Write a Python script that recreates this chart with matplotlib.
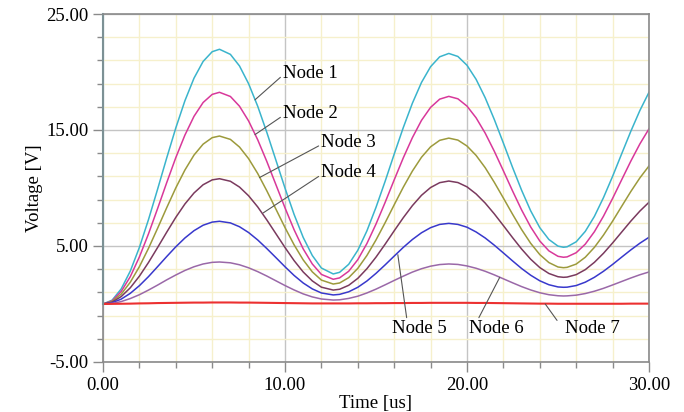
"""Node voltages versus time (re-drawn)."""

import matplotlib

matplotlib.use("Agg")
import matplotlib.pyplot as plt
from matplotlib.ticker import FormatStrFormatter, MultipleLocator

plt.rcParams["font.family"] = ["Liberation Serif", "DejaVu Serif"]

# time samples [us]
time_us = [0, 0.5, 1, 1.5, 2, 2.5, 3, 3.5, 4, 4.5, 5, 5.5, 6, 6.4,
           7, 7.5, 8, 8.5, 9, 9.5, 10, 10.5, 11, 11.5, 12, 12.65,
           13, 13.5, 14, 14.5, 15, 15.5, 16, 16.5, 17, 17.5, 18, 18.5, 19,
           19.5, 20, 20.5, 21, 21.5, 22, 22.5, 23, 23.5, 24, 24.5, 25, 25.3,
           25.5, 26, 26.5, 27, 27.5, 28, 28.5, 29, 29.5, 30]

node1 = [0, 0.33, 1.30, 2.84, 4.88, 7.28, 9.90, 12.59, 15.18, 17.52, 19.47, 20.91, 21.75, 21.96,
         21.52, 20.52, 18.99, 17.05, 14.80, 12.40, 9.99, 7.72, 5.74, 4.18, 3.10, 2.59,
         2.73, 3.42, 4.63, 6.30, 8.33, 10.57, 12.92, 15.21, 17.31, 19.10, 20.46, 21.31, 21.60,
         21.34, 20.58, 19.37, 17.78, 15.91, 13.87, 11.79, 9.81, 8.03, 6.58, 5.56, 4.99, 4.89,
         4.93, 5.36, 6.26, 7.55, 9.17, 11.00, 12.95, 14.88, 16.68, 18.25]
node2 = [0, 0.27, 1.08, 2.36, 4.06, 6.05, 8.23, 10.46, 12.62, 14.56, 16.18, 17.37, 18.07, 18.25,
         17.89, 17.05, 15.78, 14.16, 12.29, 10.29, 8.29, 6.40, 4.75, 3.45, 2.55, 2.13,
         2.25, 2.82, 3.82, 5.21, 6.89, 8.75, 10.70, 12.60, 14.34, 15.83, 16.95, 17.66, 17.90,
         17.69, 17.06, 16.05, 14.73, 13.17, 11.48, 9.76, 8.11, 6.64, 5.43, 4.58, 4.11, 4.03,
         4.06, 4.42, 5.16, 6.23, 7.57, 9.10, 10.71, 12.31, 13.80, 15.10]
node3 = [0, 0.22, 0.85, 1.88, 3.22, 4.80, 6.53, 8.30, 10.01, 11.55, 12.84, 13.78, 14.34, 14.48,
         14.19, 13.53, 12.53, 11.25, 9.76, 8.18, 6.59, 5.10, 3.80, 2.77, 2.06, 1.72,
         1.81, 2.27, 3.07, 4.18, 5.52, 7.00, 8.55, 10.07, 11.46, 12.65, 13.55, 14.11, 14.30,
         14.13, 13.62, 12.81, 11.75, 10.49, 9.13, 7.75, 6.42, 5.23, 4.26, 3.57, 3.19, 3.13,
         3.16, 3.44, 4.03, 4.88, 5.94, 7.14, 8.42, 9.69, 10.87, 11.90]
node4 = [0, 0.16, 0.64, 1.40, 2.40, 3.58, 4.87, 6.19, 7.47, 8.62, 9.57, 10.28, 10.70, 10.80,
         10.58, 10.08, 9.33, 8.37, 7.25, 6.06, 4.87, 3.74, 2.76, 1.99, 1.45, 1.20,
         1.27, 1.61, 2.21, 3.04, 4.04, 5.15, 6.31, 7.44, 8.48, 9.37, 10.04, 10.46, 10.60,
         10.47, 10.10, 9.49, 8.70, 7.77, 6.76, 5.73, 4.74, 3.86, 3.14, 2.63, 2.35, 2.30,
         2.32, 2.53, 2.96, 3.59, 4.37, 5.26, 6.20, 7.14, 8.01, 8.77]
node5 = [0, 0.11, 0.42, 0.92, 1.58, 2.36, 3.22, 4.09, 4.93, 5.69, 6.32, 6.79, 7.06, 7.13,
         6.99, 6.66, 6.16, 5.52, 4.78, 4.00, 3.21, 2.46, 1.81, 1.30, 0.95, 0.78,
         0.83, 1.05, 1.44, 1.98, 2.64, 3.37, 4.13, 4.88, 5.56, 6.14, 6.58, 6.86, 6.95,
         6.86, 6.62, 6.21, 5.69, 5.07, 4.40, 3.72, 3.06, 2.48, 2.00, 1.66, 1.47, 1.44,
         1.45, 1.59, 1.88, 2.30, 2.82, 3.41, 4.04, 4.66, 5.24, 5.75]
node6 = [0, 0.05, 0.21, 0.47, 0.80, 1.20, 1.63, 2.08, 2.50, 2.89, 3.21, 3.45, 3.59, 3.62,
         3.55, 3.38, 3.12, 2.79, 2.41, 2.00, 1.59, 1.21, 0.87, 0.61, 0.43, 0.34,
         0.36, 0.48, 0.67, 0.95, 1.28, 1.65, 2.03, 2.40, 2.75, 3.04, 3.26, 3.40, 3.45,
         3.41, 3.28, 3.08, 2.82, 2.51, 2.17, 1.83, 1.50, 1.21, 0.97, 0.80, 0.71, 0.69,
         0.70, 0.76, 0.90, 1.10, 1.35, 1.64, 1.94, 2.24, 2.52, 2.76]
node7 = [0, 0.01, 0.02, 0.03, 0.05, 0.06, 0.08, 0.09, 0.10, 0.11, 0.12, 0.12, 0.13, 0.13,
         0.13, 0.12, 0.12, 0.11, 0.10, 0.09, 0.08, 0.07, 0.06, 0.05, 0.05, 0.05,
         0.05, 0.05, 0.06, 0.06, 0.07, 0.07, 0.08, 0.08, 0.09, 0.09, 0.10, 0.10, 0.10,
         0.10, 0.10, 0.09, 0.09, 0.08, 0.07, 0.06, 0.05, 0.04, 0.03, 0.03, 0.02, 0.02,
         0.02, 0.02, 0.02, 0.02, 0.02, 0.02, 0.02, 0.03, 0.03, 0.03]

series = [node1, node2, node3, node4, node5, node6, node7]
names = ["Node 1", "Node 2", "Node 3", "Node 4", "Node 5", "Node 6", "Node 7"]
colors = ["#3ab4cc", "#d8389a", "#9c9a3c", "#7a3a5e", "#3838cc", "#9a68a8", "#ec3030"]

# label anchor (time, voltage) on curve, text position (time, voltage), leader attach point on text
label_xy = [(8.35, 17.6), (8.35, 14.6), (8.6, 10.9), (8.8, 7.85), (16.2, 4.25), (21.8, 2.3), (24.3, 0.0)]
label_text = [(9.9, 19.9), (9.9, 16.4), (12.0, 13.9), (12.0, 11.3), (15.9, -2.15), (20.1, -2.15), (25.4, -2.15)]
label_attach = [(0, 0.4), (0, 0.4), (0, 0.4), (0, 0.4), (0.27, 0.95), (0.15, 0.95), (-0.15, 1.0)]


def main() -> None:
    for vals in series:
        assert len(vals) == len(time_us)

    fig = plt.figure(figsize=(6.84, 4.12), dpi=100)
    ax = fig.add_axes([0.1506, 0.1214, 0.7982, 0.8446])

    ax.set_xlim(0, 30)
    ax.set_ylim(-5, 25)
    ax.xaxis.set_major_locator(MultipleLocator(10))
    ax.xaxis.set_minor_locator(MultipleLocator(2))
    ax.yaxis.set_major_locator(MultipleLocator(10, offset=5))
    ax.yaxis.set_minor_locator(MultipleLocator(2, offset=1))
    ax.xaxis.set_major_formatter(FormatStrFormatter("%.2f"))
    ax.yaxis.set_major_formatter(FormatStrFormatter("%.2f"))

    ax.grid(which="minor", color="#f6f0cc", lw=1.0)
    ax.grid(which="major", color="#c4c4c4", lw=1.0)
    ax.set_axisbelow(True)

    for sp in ax.spines.values():
        sp.set_color("#8a8a8a")
        sp.set_linewidth(1.2)
    ax.tick_params(which="both", direction="out", colors="#8a8a8a", labelcolor="black",
                   labelsize=13.5, width=1.0)
    ax.tick_params(which="major", length=7)
    ax.tick_params(which="minor", length=4)

    for vals, col in zip(series, colors):
        lw = 1.5 if col == "#ec3030" else 1.1
        ax.plot(time_us, vals, color=col, lw=lw, solid_joinstyle="round")
    ax.plot([0, 0], [0, 25], color="#3ab4cc", lw=1.5, clip_on=False)

    for name, xy, txt, rel in zip(names, label_xy, label_text, label_attach):
        ax.annotate(name, xy=xy, xytext=txt, fontsize=13.5, va="center", ha="left",
                    arrowprops=dict(arrowstyle="-", color="#555555", lw=0.8,
                                    shrinkA=0, shrinkB=0, relpos=rel))

    ax.set_xlabel("Time [us]", fontsize=13.5, labelpad=1)
    ax.set_ylabel("Voltage [V]", fontsize=13.5, labelpad=2)

    fig.savefig("out.png", dpi=100)
    plt.close(fig)


if __name__ == "__main__":
    main()
